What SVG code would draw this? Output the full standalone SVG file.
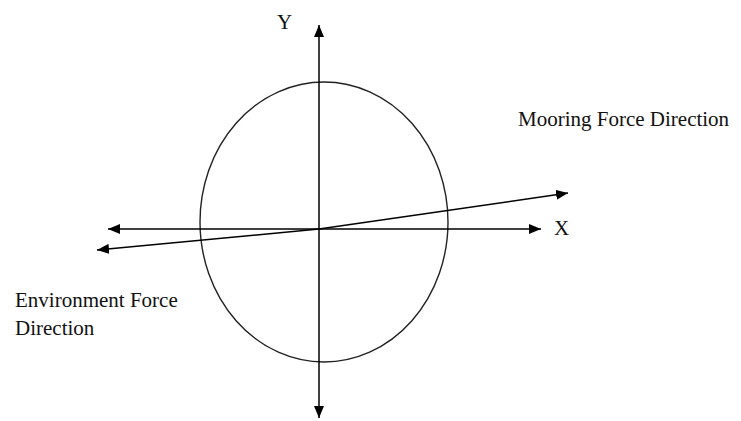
<svg xmlns="http://www.w3.org/2000/svg" width="741" height="421" viewBox="0 0 741 421">
<style>
.t{font-family:"Liberation Serif","Times New Roman",serif;font-size:21px;fill:#111}
.ax{stroke:#000;stroke-width:1.5;fill:none}
</style>
<defs>
<marker id="ah" markerWidth="12" markerHeight="10" refX="12" refY="5" orient="auto" markerUnits="userSpaceOnUse">
<path d="M0,0 L12,5 L0,10 Z" fill="#000"/>
</marker>
</defs>
<rect width="741" height="421" fill="#fff"/>
<g id="ellipse"><ellipse cx="324" cy="222" rx="124" ry="140" fill="none" stroke="#222" stroke-width="1.4"/></g>
<g id="connectors">
<line class="ax" x1="319" y1="229" x2="319" y2="25" marker-end="url(#ah)"/>
<line class="ax" x1="319" y1="229" x2="319" y2="418" marker-end="url(#ah)"/>
<line class="ax" x1="319" y1="229" x2="541" y2="229" marker-end="url(#ah)"/>
<line class="ax" x1="319" y1="229" x2="108" y2="229" marker-end="url(#ah)"/>
<line class="ax" x1="319" y1="229" x2="568" y2="193" marker-end="url(#ah)"/>
<line class="ax" x1="319" y1="229" x2="97" y2="250" marker-end="url(#ah)"/>
</g>
<g id="labels">
<text class="t" x="277" y="29" font-size="22">Y</text>
<text class="t" x="554" y="235" font-size="22">X</text>
<text class="t" x="518" y="126">Mooring Force Direction</text>
<text class="t" x="15" y="307">Environment Force</text>
<text class="t" x="15" y="335">Direction</text>
</g>
</svg>
